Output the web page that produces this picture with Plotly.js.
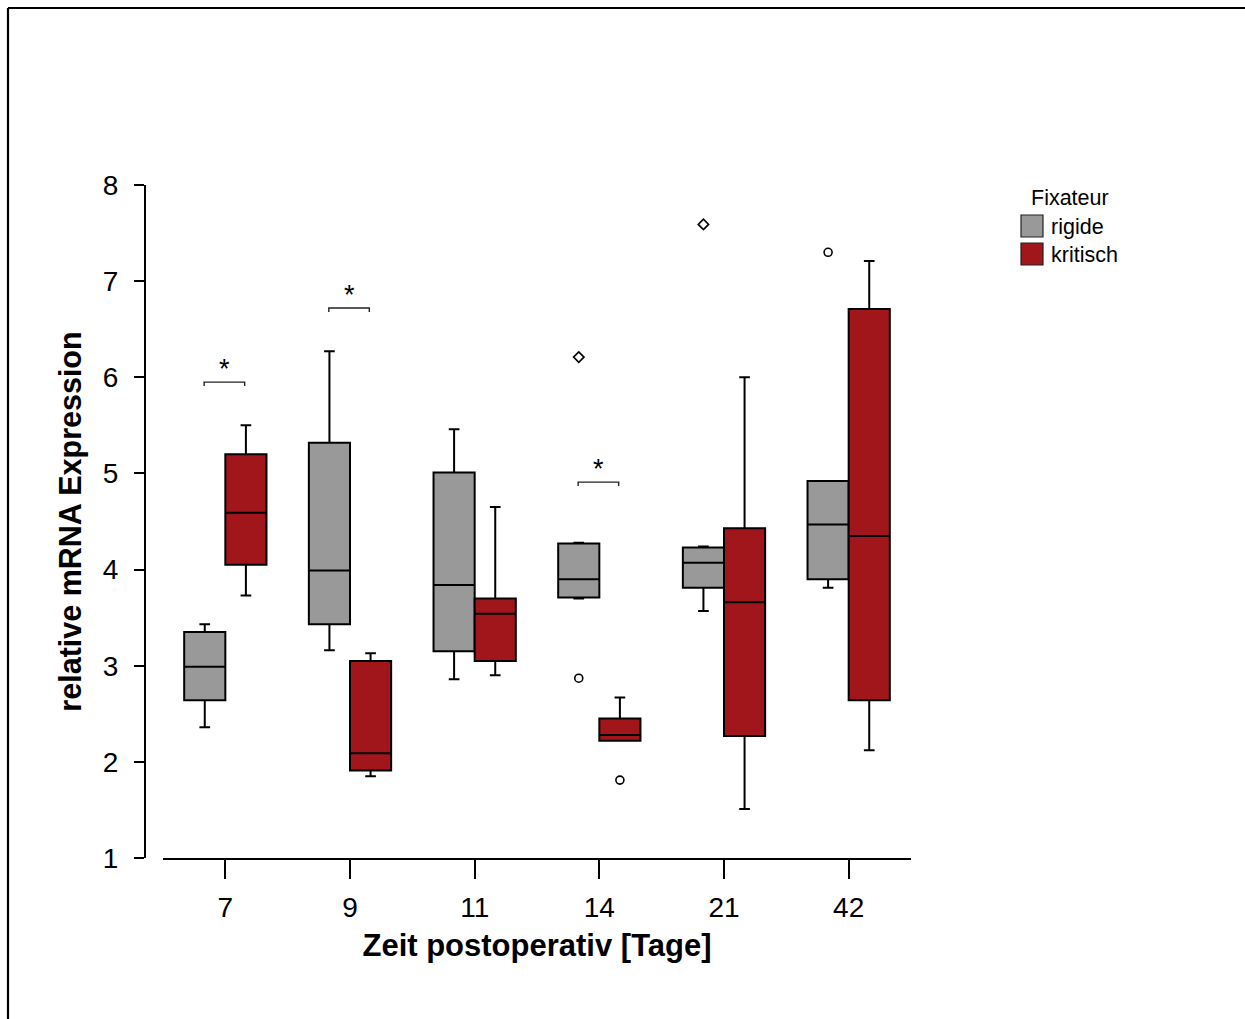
<!DOCTYPE html>
<html>
<head>
<meta charset="utf-8">
<script src="https://cdn.plot.ly/plotly-3.0.1.min.js"></script>
<style>html,body{margin:0;padding:0;background:#fff;}</style>
</head>
<body>
<div id="chart" style="width:1245px;height:1019px;"></div>
<script>
// ---- data ----
const days = ['7', '9', '11', '14', '21', '42'];
const groups = ['rigide', 'kritisch'];
const legendTitle = 'Fixateur';

const rigideLower  = [2.36, 3.16, 2.86, 3.70, 3.57, 3.81];
const rigideQ1     = [2.64, 3.43, 3.15, 3.71, 3.81, 3.90];
const rigideMedian = [2.99, 3.99, 3.84, 3.90, 4.07, 4.47];
const rigideQ3     = [3.35, 5.32, 5.01, 4.27, 4.23, 4.92];
const rigideUpper  = [3.43, 6.27, 5.46, 4.28, 4.24, 4.92];

const kritischLower  = [3.73, 1.85, 2.90, 2.22, 1.51, 2.12];
const kritischQ1     = [4.05, 1.91, 3.05, 2.22, 2.27, 2.64];
const kritischMedian = [4.59, 2.09, 3.54, 2.28, 3.66, 4.35];
const kritischQ3     = [5.20, 3.05, 3.70, 2.45, 4.43, 6.71];
const kritischUpper  = [5.50, 3.13, 4.65, 2.67, 6.00, 7.21];

// outliers: day index, value, symbol
const rigideOutDay   = [3, 3, 4, 5];
const rigideOutVal   = [6.21, 2.87, 7.59, 7.30];
const rigideOutSym   = ['diamond-open', 'circle-open', 'diamond-open', 'circle-open'];
const kritischOutDay = [3];
const kritischOutVal = [1.81];
const kritischOutSym = ['circle-open'];

// significance brackets
const sigDay = [0, 1, 3];
const sigY   = [5.95, 6.72, 4.91];
const sigText = '*';

const colors = ['#999999', '#A1161B'];

// ---- layout helpers ----
const W = 1245, H = 1019;
const plotL = 145, plotR = 911, plotT = 185, plotB = 858;
const px2x = p => (p - plotL) / (plotR - plotL);
const px2y = p => (plotB - p) / (plotB - plotT);
const idx = days.map((d, i) => i);
const groupOffset = 0.165;
const unitPx = (plotB - plotT) / 7;

function boxTrace(name, lower, q1, med, q3, upper, color) {
  return {
    type: 'box', name: name, x: idx,
    lowerfence: lower, q1: q1, median: med, q3: q3, upperfence: upper,
    fillcolor: color, line: {color: '#000000', width: 2},
    whiskerwidth: 0.26, boxpoints: false, showlegend: false, hoverinfo: 'y'
  };
}
function outTrace(name, dayIdx, vals, syms, sign) {
  return {
    type: 'scatter', mode: 'markers', name: name + ' Ausreißer',
    x: dayIdx.map(i => i + sign * groupOffset), y: vals,
    marker: {symbol: syms, size: 8, color: '#000000', line: {color: '#000000', width: 1.6}},
    showlegend: false, hoverinfo: 'y'
  };
}

const traces = [
  boxTrace(groups[0], rigideLower, rigideQ1, rigideMedian, rigideQ3, rigideUpper, colors[0]),
  boxTrace(groups[1], kritischLower, kritischQ1, kritischMedian, kritischQ3, kritischUpper, colors[1]),
  outTrace(groups[0], rigideOutDay, rigideOutVal, rigideOutSym, -1),
  outTrace(groups[1], kritischOutDay, kritischOutVal, kritischOutSym, 1)
];

const shapes = [];
const annotations = [];

// brackets
const tick = 4 / unitPx;
sigDay.forEach((d, k) => {
  const x0 = d - 0.17, x1 = d + 0.155, y = sigY[k];
  shapes.push({type: 'path', xref: 'x', yref: 'y',
    path: `M ${x0},${y - tick} L ${x0},${y} L ${x1},${y} L ${x1},${y - tick}`,
    line: {color: '#222222', width: 1.4}});
  annotations.push({xref: 'x', yref: 'y', x: (x0 + x1) / 2, y: y, text: sigText,
    showarrow: false, yanchor: 'bottom', yshift: -4,
    font: {size: 27, color: '#000000', family: 'Liberation Sans, Arial, sans-serif'}});
});

// outer frame (top and left)
shapes.push({type: 'line', xref: 'paper', yref: 'paper', x0: px2x(8), x1: px2x(W + 5), y0: px2y(8), y1: px2y(8), line: {color: '#000', width: 2.2}});
shapes.push({type: 'line', xref: 'paper', yref: 'paper', x0: px2x(8), x1: px2x(8), y0: px2y(8), y1: px2y(H + 5), line: {color: '#000', width: 2.2}});

// legend (manual)
annotations.push({xref: 'paper', yref: 'paper', x: px2x(1070), y: px2y(198), text: legendTitle,
  showarrow: false, xanchor: 'center', yanchor: 'middle', font: {size: 21.5, color: '#000'}});
const legY = [226, 254];
groups.forEach((g, k) => {
  shapes.push({type: 'rect', xref: 'paper', yref: 'paper',
    x0: px2x(1021), x1: px2x(1043), y0: px2y(legY[k] - 11), y1: px2y(legY[k] + 11),
    fillcolor: colors[k], line: {color: '#222', width: 1.2}});
  annotations.push({xref: 'paper', yref: 'paper', x: px2x(1049), y: px2y(legY[k] + 1), text: g,
    showarrow: false, xanchor: 'left', yanchor: 'middle', font: {size: 21.5, color: '#000'}});
});

const layout = {
  width: W, height: H,
  margin: {l: plotL, r: W - plotR, t: plotT, b: H - plotB, pad: 0},
  paper_bgcolor: '#ffffff', plot_bgcolor: '#ffffff',
  font: {family: 'Liberation Sans, Arial, sans-serif', color: '#000000'},
  boxmode: 'group', boxgap: 0.34, boxgroupgap: 0,
  showlegend: false,
  xaxis: {
    domain: [px2x(163), 1], range: [-0.5, 5.5],
    tickmode: 'array', tickvals: idx, ticktext: days,
    ticks: 'outside', ticklen: 19, tickwidth: 2, tickcolor: '#000',
    showline: true, linewidth: 2, linecolor: '#000',
    showgrid: false, zeroline: false, ticklabelstandoff: 4,
    tickfont: {size: 28},
    title: {text: 'Zeit postoperativ [Tage]', standoff: 13, font: {size: 31, weight: 700}}
  },
  yaxis: {
    range: [1, 8], anchor: 'free', position: 0,
    tickmode: 'array', tickvals: [1, 2, 3, 4, 5, 6, 7, 8],
    ticks: 'outside', ticklen: 10, tickwidth: 2, tickcolor: '#000',
    showline: true, linewidth: 2, linecolor: '#000',
    showgrid: false, zeroline: false, ticklabelstandoff: 10,
    tickfont: {size: 28},
    title: {text: 'relative mRNA Expression', standoff: 11, font: {size: 30.5, weight: 700}}
  },
  shapes: shapes, annotations: annotations
};

Plotly.newPlot('chart', traces, layout, {displayModeBar: false, staticPlot: true});
</script>
</body>
</html>
